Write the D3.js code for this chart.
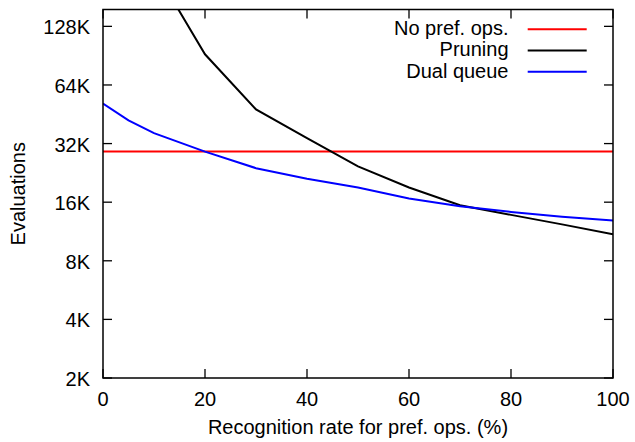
<!DOCTYPE html>
<html>
<head>
<meta charset="utf-8">
<script src="https://cdn.jsdelivr.net/npm/d3@7"></script>
<style>
body { margin: 0; background: #fff; }
text { font-family: "Liberation Sans", Arial, sans-serif; fill: #000; }
</style>
</head>
<body>
<div id="chart"></div>
<script>
// data
var rates = [0, 5, 10, 20, 30, 40, 50, 60, 70, 80, 90, 100];
var noPref = [29800, 29800, 29800, 29800, 29800, 29800, 29800, 29800, 29800, 29800, 29800, 29800];
var pruning = [null, null, 260000, 94200, 49100, 34900, 25000, 19500, 15800, 14100, 12600, 11200];
var dualQueue = [52600, 43100, 37100, 29800, 24500, 21600, 19500, 17100, 15600, 14600, 13800, 13200];
var yTicks = [2048, 4096, 8192, 16384, 32768, 65536, 131072];
var yTickLabels = ["2K", "4K", "8K", "16K", "32K", "64K", "128K"];
var xTicks = [0, 20, 40, 60, 80, 100];

var series = [
  {name: "No pref. ops.", values: noPref, color: "#ff0000"},
  {name: "Pruning", values: pruning, color: "#000000"},
  {name: "Dual queue", values: dualQueue, color: "#0000ff"}
];

var margin = {top: 9.5, right: 22, bottom: 64, left: 103},
    width = 635 - margin.left - margin.right,
    height = 442 - margin.top - margin.bottom;

var svg = d3.select("#chart").append("svg")
    .attr("width", 635)
    .attr("height", 442)
  .append("g")
    .attr("transform", "translate(" + margin.left + "," + margin.top + ")");

var x = d3.scaleLinear().domain([0, 100]).range([0, width]);
var y = d3.scaleLog().base(2).domain([2048, 160000]).range([height, 0]);

svg.append("clipPath").attr("id", "clip")
  .append("rect").attr("width", width).attr("height", height);

// ticks (inward, mirrored)
var tickLen = 9;
var ticks = svg.append("g").attr("stroke", "#000").attr("stroke-width", 1.3);
yTicks.forEach(function(t) {
  ticks.append("line").attr("x1", 0).attr("x2", tickLen).attr("y1", y(t)).attr("y2", y(t));
  ticks.append("line").attr("x1", width).attr("x2", width - tickLen).attr("y1", y(t)).attr("y2", y(t));
});
xTicks.forEach(function(t) {
  ticks.append("line").attr("y1", height).attr("y2", height - tickLen).attr("x1", x(t)).attr("x2", x(t));
  ticks.append("line").attr("y1", 0).attr("y2", tickLen).attr("x1", x(t)).attr("x2", x(t));
});

svg.selectAll(".ylab")
  .data(yTicks).enter()
  .append("text")
  .attr("x", -13)
  .attr("y", d => y(d))
  .attr("dy", "0.4em")
  .attr("text-anchor", "end")
  .style("font-size", "20px")
  .text((d, i) => yTickLabels[i]);

svg.selectAll(".xlab")
  .data(xTicks).enter()
  .append("text")
  .attr("x", d => x(d))
  .attr("y", height + 27.5)
  .attr("text-anchor", "middle")
  .style("font-size", "20px")
  .text(d => d);

// lines
var line = d3.line()
  .defined(d => d[1] != null)
  .x(d => x(d[0]))
  .y(d => y(d[1]));

svg.append("g").attr("clip-path", "url(#clip)")
  .selectAll("path")
  .data(series).enter()
  .append("path")
  .attr("fill", "none")
  .attr("stroke", d => d.color)
  .attr("stroke-width", 2)
  .attr("d", d => line(rates.map((r, i) => [r, d.values[i]])));

// frame
svg.append("rect")
  .attr("width", width).attr("height", height)
  .attr("fill", "none").attr("stroke", "#000").attr("stroke-width", 1.5);

// legend
var legend = svg.selectAll(".legend")
  .data(series).enter()
  .append("g")
  .attr("transform", (d, i) => "translate(0," + (19.8 + i * 21.2) + ")");
legend.append("text")
  .attr("x", 405.5)
  .attr("dy", "0.29em")
  .attr("text-anchor", "end")
  .style("font-size", "20px")
  .text(d => d.name);
legend.append("line")
  .attr("x1", 424.7).attr("x2", 483.7)
  .attr("stroke", d => d.color).attr("stroke-width", 2);

// axis titles
svg.append("text")
  .attr("x", width / 2)
  .attr("y", height + 55.5)
  .attr("text-anchor", "middle")
  .style("font-size", "20px")
  .text("Recognition rate for pref. ops. (%)");

svg.append("text")
  .attr("transform", "translate(" + (-78) + "," + (height / 2) + ") rotate(-90)")
  .attr("text-anchor", "middle")
  .style("font-size", "20px")
  .text("Evaluations");
</script>
</body>
</html>
